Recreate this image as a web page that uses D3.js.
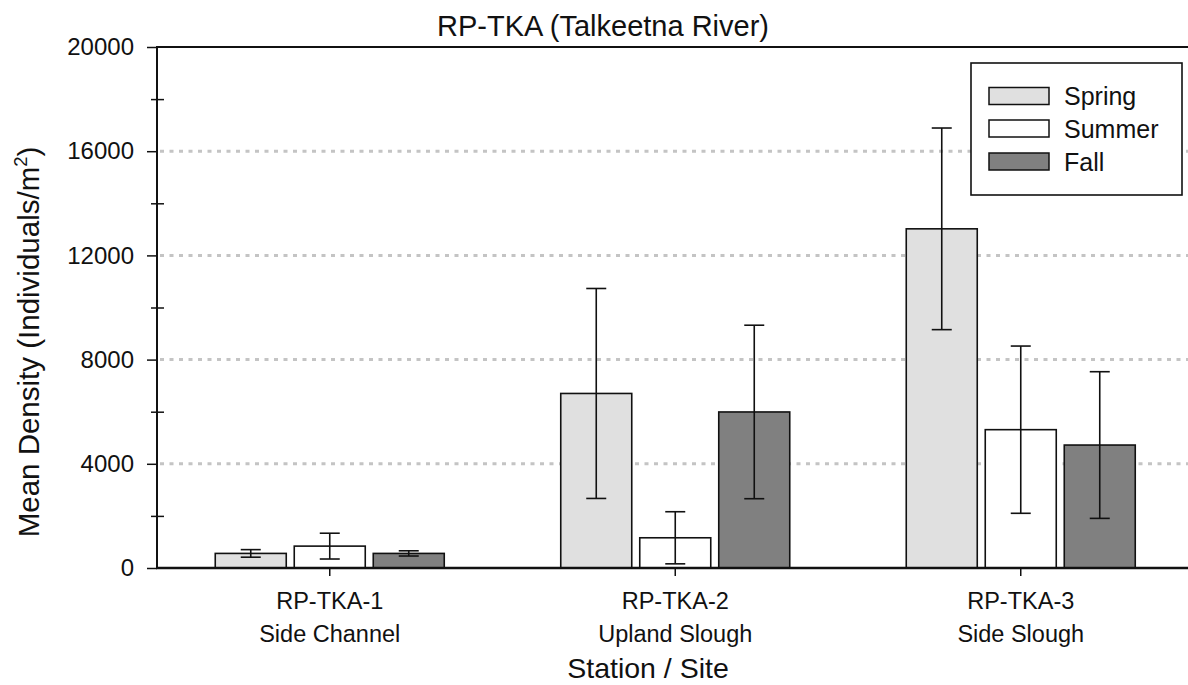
<!DOCTYPE html>
<html><head><meta charset="utf-8">
<script src="https://cdn.jsdelivr.net/npm/d3@7"></script>
<style>body{margin:0;background:#fff}svg{display:block;font-family:"Liberation Sans",Arial,sans-serif}</style>
</head><body>
<script>
const stations = ["RP-TKA-1", "RP-TKA-2", "RP-TKA-3"];
const siteTypes = ["Side Channel", "Upland Slough", "Side Slough"];
const seasons = ["Spring", "Summer", "Fall"];
const springMean = [560, 6700, 13020];
const springErr = [145, 4030, 3870];
const summerMean = [840, 1160, 5310];
const summerErr = [495, 1000, 3210];
const fallMean = [560, 5990, 4720];
const fallErr = [100, 3330, 2815];
const majorTicks = [0, 4000, 8000, 12000, 16000, 20000];
const minorTicks = [2000, 6000, 10000, 14000, 18000];
const gridTicks = [4000, 8000, 12000, 16000];
const seasonColors = ["#e0e0e0", "#ffffff", "#808080"];

const W = 1188, H = 685;
const svg = d3.select("body").append("svg").attr("width", W).attr("height", H);
const x0 = d3.scaleBand().domain(stations).range([157, 1193.5]).paddingInner(0).paddingOuter(0);
const barW = 71, gap = 8;
const x1 = d3.scaleBand().domain(seasons).range([-(barW*1.5+gap), barW*1.5+gap]).paddingInner(gap/(barW+gap)).paddingOuter(0);
const y = d3.scaleLinear().domain([0, 20000]).range([568, 47]);
const color = d3.scaleOrdinal().domain(seasons).range(seasonColors);

const means = [springMean, summerMean, fallMean];
const errs = [springErr, summerErr, fallErr];
const data = [];
stations.forEach((s, i) => seasons.forEach((se, j) => data.push({station: s, season: se, mean: means[j][i], err: errs[j][i]})));

// gridlines
svg.append("g").selectAll("line").data(gridTicks).join("line")
  .attr("x1", 160).attr("x2", W).attr("y1", d => y(d)).attr("y2", d => y(d))
  .attr("stroke", "#c4c4c4").attr("stroke-width", 3).attr("stroke-dasharray", "4,5.5");

// bars
const cx = d => x0(d.station) + x0.bandwidth()/2;
svg.append("g").selectAll("rect").data(data).join("rect")
  .attr("x", d => cx(d) + x1(d.season)).attr("width", x1.bandwidth())
  .attr("y", d => y(d.mean)).attr("height", d => y(0) - y(d.mean))
  .attr("fill", d => color(d.season)).attr("stroke", "#111").attr("stroke-width", 1.6);

// error bars
const eb = svg.append("g").attr("stroke", "#111").attr("stroke-width", 1.6);
data.forEach(d => {
  const xc = cx(d) + x1(d.season) + x1.bandwidth()/2;
  eb.append("line").attr("x1", xc).attr("x2", xc).attr("y1", y(d.mean + d.err)).attr("y2", y(d.mean - d.err));
  [d.mean + d.err, d.mean - d.err].forEach(v => eb.append("line").attr("x1", xc-10).attr("x2", xc+10).attr("y1", y(v)).attr("y2", y(v)));
});

// y axis
const yAxis = d3.axisLeft(y).tickValues(majorTicks).tickSize(10).tickPadding(13).tickFormat(d3.format("d"));
const ya = svg.append("g").attr("transform", "translate(157,0)").call(yAxis);
ya.select(".domain").attr("stroke", "#111").attr("stroke-width", 2).attr("d", "M0,47V569");
ya.selectAll(".tick line").attr("stroke", "#111").attr("stroke-width", 1.5);
ya.selectAll("text").attr("font-size", 24).attr("fill", "#111").attr("font-family", "Liberation Sans, Arial, sans-serif");
const yMinor = d3.axisLeft(y).tickValues(minorTicks).tickSize(6).tickFormat("");
const ym = svg.append("g").attr("transform", "translate(157,0)").call(yMinor);
ym.select(".domain").remove();
ym.selectAll(".tick line").attr("stroke", "#111").attr("stroke-width", 1.5).attr("x2", 7).attr("x1", -6);

// top border
svg.append("line").attr("x1", 156).attr("x2", W).attr("y1", 47).attr("y2", 47).attr("stroke", "#111").attr("stroke-width", 2);

// x axis
const xAxis = d3.axisBottom(x0).tickSize(8).tickFormat("");
const xa = svg.append("g").attr("transform", "translate(0,568)").call(xAxis);
xa.select(".domain").attr("stroke", "#111").attr("stroke-width", 2.5).attr("d", "M156,0H" + W);
xa.selectAll(".tick line").attr("stroke", "#111").attr("stroke-width", 1.5);
const labs = svg.append("g").attr("font-size", 23.5).attr("text-anchor", "middle").attr("fill", "#111");
stations.forEach((s, i) => {
  const xc = x0(s) + x0.bandwidth()/2;
  labs.append("text").attr("x", xc).attr("y", 609).text(s);
  labs.append("text").attr("x", xc).attr("y", 642).text(siteTypes[i]);
});

// titles
svg.append("text").attr("x", 603).attr("y", 36).attr("text-anchor", "middle").attr("font-size", 29).attr("fill", "#111").text("RP-TKA (Talkeetna River)");
svg.append("text").attr("x", 648).attr("y", 678).attr("text-anchor", "middle").attr("font-size", 28.5).attr("fill", "#111").text("Station / Site");
const yt = svg.append("text").attr("transform", "translate(39,342) rotate(-90)").attr("text-anchor", "middle").attr("font-size", 29.5).attr("fill", "#111");
yt.append("tspan").text("Mean Density (Individuals/m");
yt.append("tspan").attr("font-size", 18.5).attr("dy", -12).text("2");
yt.append("tspan").attr("dy", 12).text(")");

// legend
const lg = svg.append("g");
lg.append("rect").attr("x", 971).attr("y", 63).attr("width", 211).attr("height", 132).attr("fill", "#fff").attr("stroke", "#111").attr("stroke-width", 1.6);
const rowsY = [96, 128.5, 161.5];
seasons.forEach((s, i) => {
  lg.append("rect").attr("x", 989).attr("y", rowsY[i] - 8.5).attr("width", 60).attr("height", 17).attr("fill", color(s)).attr("stroke", "#111").attr("stroke-width", 1.5);
  lg.append("text").attr("x", 1064).attr("y", rowsY[i]).attr("dy", "0.36em").attr("font-size", 25).attr("fill", "#111").text(s);
});
</script>
</body></html>
